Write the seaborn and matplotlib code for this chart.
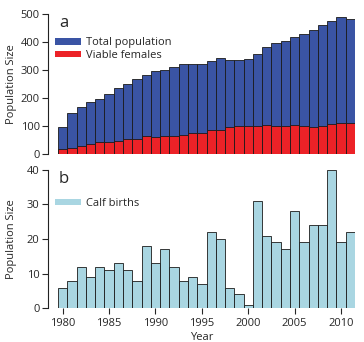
import numpy as np
import pandas as pd
import matplotlib
matplotlib.use("Agg")
import matplotlib.pyplot as plt
import seaborn as sns
from matplotlib.patches import Patch

years = list(range(1980, 2012))
total_pop = [96, 145, 167, 184, 197, 213, 235, 249, 267, 281, 297, 299, 309, 320,
             323, 320, 331, 343, 334, 334, 340, 357, 381, 395, 404, 417, 429, 442,
             462, 476, 488, 481]
viable_females = [17, 21, 30, 34, 42, 43, 48, 55, 55, 63, 61, 63, 65, 68,
                  74, 74, 87, 84, 95, 99, 101, 101, 102, 101, 99, 102, 101, 97,
                  100, 108, 109, 109]
calf_births = [6, 8, 12, 9, 12, 11, 13, 11, 8, 18, 13, 17, 12, 8,
               9, 7, 22, 20, 6, 4, 1, 31, 21, 19, 17, 28, 19, 24,
               24, 40, 19, 22]

blue = "#3a54a4"
red = "#ec2227"
light = "#a9d6e2"
edge = "#1a1a1a"

sns.set_style("white")
plt.rcParams['font.family'] = ['Open Sans', 'DejaVu Sans']
plt.rcParams['font.size'] = 8

df = pd.DataFrame({"year": years, "total": total_pop,
                   "females": viable_females, "calves": calf_births})

fig = plt.figure(figsize=(3.64, 3.42), dpi=100)
ax1 = fig.add_axes([0.1319, 0.5497, 0.8434, 0.4094])
ax2 = fig.add_axes([0.1319, 0.0985, 0.8434, 0.4055])

sns.barplot(data=df, x="year", y="total", native_scale=True, width=1,
            color=blue, edgecolor=edge, linewidth=0.6, saturation=1, ax=ax1)
sns.barplot(data=df, x="year", y="females", native_scale=True, width=1,
            color=red, edgecolor=edge, linewidth=0.6, saturation=1, ax=ax1)
sns.barplot(data=df, x="year", y="calves", native_scale=True, width=1,
            color=light, edgecolor=edge, linewidth=0.6, saturation=1, ax=ax2)

for ax in (ax1, ax2):
    ax.set_xlim(1978.42, 2011.5)
    sns.despine(ax=ax, bottom=True)
    ax.spines['left'].set_linewidth(0.8)
    ax.spines['left'].set_color("#222222")
    ax.tick_params(axis='y', left=True, length=4, width=0.8, labelsize=8, pad=2)
    ax.set_ylabel("Population Size", fontsize=8)
    ax.set_xlabel("")

ax1.set_ylim(0, 500)
ax1.set_yticks([0, 100, 200, 300, 400, 500])
ax1.set_xticks([])
ax2.set_ylim(0, 40)
ax2.set_yticks([0, 10, 20, 30, 40])
ax2.set_xticks([1980, 1985, 1990, 1995, 2000, 2005, 2010])
ax2.tick_params(axis='x', bottom=True, length=4, width=0.8, labelsize=8, pad=3)
ax2.set_xlabel("Year", fontsize=8, labelpad=2)

ax1.yaxis.set_label_coords(-0.10, 0.5)
ax2.yaxis.set_label_coords(-0.10, 0.5)

ax1.text(0.036, 0.99, "a", transform=ax1.transAxes, fontsize=12, va="top")
ax2.text(0.036, 0.99, "b", transform=ax2.transAxes, fontsize=12, va="top")

h1 = [Patch(facecolor=blue, edgecolor="none"), Patch(facecolor=red, edgecolor="none")]
ax1.legend(h1, ["Total population", "Viable females"], loc="upper left",
           bbox_to_anchor=(0.0, 0.88), frameon=False, fontsize=8,
           handlelength=2.4, handleheight=0.5, handletextpad=0.4,
           labelspacing=0.15, borderaxespad=0.2)
h2 = [Patch(facecolor=light, edgecolor="none")]
ax2.legend(h2, ["Calf births"], loc="upper left",
           bbox_to_anchor=(0.0, 0.845), frameon=False, fontsize=8,
           handlelength=2.4, handleheight=0.5, handletextpad=0.4,
           borderaxespad=0.2)

fig.savefig("out.png", dpi=100)
